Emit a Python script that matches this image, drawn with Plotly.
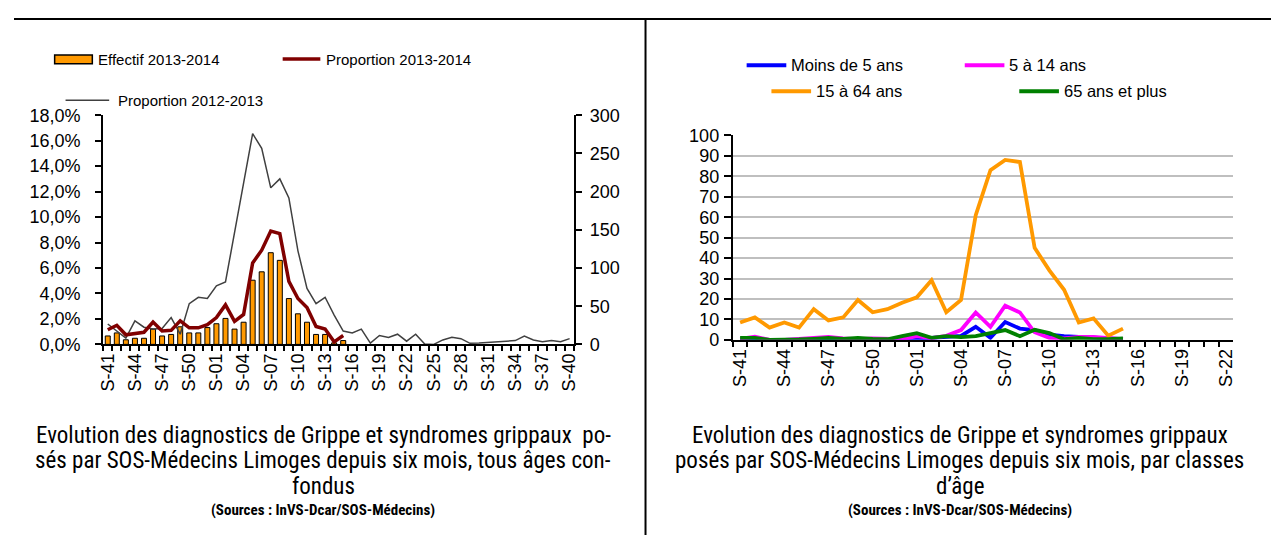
import plotly.graph_objects as go

W, H = 1279, 537
OFF = 8  # la page html ajoute une marge de 8px autour de la figure

# semaines S-41 .. S-52 puis S-01 .. S-40
weeks = [f"S-{w:02d}" for w in list(range(41, 53)) + list(range(1, 41))]
weeks_age = weeks[:34]

# graphique de gauche : tous ages
effectif_1314 = [11, 15, 6, 8, 8, 20, 11, 13, 23, 15, 15, 22, 27, 34, 20, 29,
                 84, 95, 120, 110, 60, 40, 29, 13, 13, 2, 5]
prop_1314 = [1.15, 1.5, 0.75, 0.85, 0.95, 1.75, 1.05, 1.1, 1.85, 1.3, 1.3, 1.55,
             2.1, 3.1, 1.8, 2.35, 6.4, 7.4, 8.9, 8.7, 4.95, 3.6, 2.9, 1.4, 1.2,
             0.2, 0.7]
prop_1213 = [1.6, 1.05, 0.5, 1.85, 1.35, 1.2, 1.25, 2.1, 0.8, 3.2, 3.7, 3.6,
             4.6, 4.9, 8.7, 12.6, 16.55, 15.4, 12.3, 13.0, 11.5, 7.35, 4.4, 3.2,
             3.7, 2.3, 1.05, 0.9, 1.2, 0.1, 0.7, 0.55, 0.8, 0.25, 0.8, 0.02,
             0.0, 0.35, 0.55, 0.45, 0.08, 0.1, 0.15, 0.25, 0.28, 0.3, 0.65, 0.35,
             0.2, 0.3, 0.2, 0.45]

# graphique de droite : par classes d'age
moins5 = [0.3, 0, 0, 0, 0.2, 0.3, 0.3, 0, 0.2, 0.2, 0.2, 0, 0.5, 0.7, 1.2, 1.9,
          6.4, 1.0, 8.7, 5.5, 4.8, 2.5, 1.8, 1.3, 1.0, 0.7, 0.4]
de5a14 = [0.5, 1.5, 0, 0, 0.5, 1.0, 1.5, 0.7, 0.3, 0.7, 0.7, 0.3, 1.8, 0.8, 2.0,
          4.8, 13.4, 6.4, 16.7, 13.4, 3.7, 1.0, 0.7, 1.5, 1.5, 1.0, 0.3]
de15a64 = [8.5, 11, 6, 8.5, 6, 15, 9.5, 11, 19.5, 13.5, 15, 18.2, 20.8, 29.2,
           13.5, 19.5, 61, 83, 88, 87, 45, 34, 24.5, 8.5, 10.5, 2, 5.5]
plus65 = [1.0, 1.0, 0, 0, 0.2, 0.5, 0.9, 0.5, 0.9, 0.5, 0.3, 1.8, 3.3, 1.0, 1.8,
          1.3, 1.8, 3.3, 4.8, 1.8, 4.9, 3.3, 0.3, 1.0, 0.3, 0.3, 0.7]

left_names = ["Effectif 2013-2014", "Proportion 2013-2014", "Proportion 2012-2013"]
age_names = ["Moins de 5 ans", "5 à 14 ans", "15 à 64 ans", "65 ans et plus"]
age_colors = ["#0000FF", "#FF00FF", "#FF9900", "#008000"]

caption_left = ["Evolution des diagnostics de Grippe et syndromes grippaux  po-",
                "sés par SOS-Médecins Limoges depuis six mois, tous âges con-",
                "fondus"]
caption_right = ["Evolution des diagnostics de Grippe et syndromes grippaux",
                 "posés par SOS-Médecins Limoges depuis six mois, par classes",
                 "d’âge"]
sources = "(Sources : InVS-Dcar/SOS-Médecins)"


def px(x):
    return (x - OFF) / W


def py(y):
    return 1 - (y - OFF) / H


TICKFONT = dict(family="Liberation Sans, Arial", size=18, color="black")
CAPFONT = "Liberation Sans Narrow, Roboto Condensed, DejaVu Sans Condensed, Arial Narrow"

fig = go.Figure()

fig.add_trace(go.Bar(x=weeks[:len(effectif_1314)], y=effectif_1314, name=left_names[0],
                     marker=dict(color="#FF9900", line=dict(color="black", width=1)),
                     xaxis="x", yaxis="y"))
fig.add_trace(go.Scatter(x=weeks, y=prop_1213, mode="lines", name=left_names[2],
                         line=dict(color="#404040", width=1.5), xaxis="x", yaxis="y2"))
fig.add_trace(go.Scatter(x=weeks[:len(prop_1314)], y=prop_1314, mode="lines", name=left_names[1],
                         line=dict(color="#800000", width=3.5), xaxis="x", yaxis="y2"))

for name, vals, col in zip(age_names, [moins5, de5a14, de15a64, plus65], age_colors):
    fig.add_trace(go.Scatter(x=weeks_age[:len(vals)], y=vals, mode="lines", name=name,
                             line=dict(color=col, width=3.8), xaxis="x2", yaxis="y3"))

xcommon = dict(type="category", tickmode="array", tickson="boundaries", ticks="outside",
               ticklen=5, tickwidth=1.5, tickcolor="black", tickangle=-90,
               showline=True, linecolor="black", linewidth=2, showgrid=False,
               zeroline=False, tickfont=TICKFONT)

fig.update_layout(
    width=W, height=H,
    margin=dict(l=0, r=0, t=0, b=0),
    paper_bgcolor="white", plot_bgcolor="white",
    showlegend=False, bargap=0.45, separators=", ",
    xaxis=dict(domain=[px(98), px(573)], anchor="y", categoryorder="array", categoryarray=weeks,
               range=[-0.5, len(weeks) - 0.5], tickvals=weeks,
               ticktext=[w if i % 3 == 0 else "" for i, w in enumerate(weeks)], **xcommon),
    yaxis=dict(domain=[py(347), py(109)], anchor="x", side="right", range=[0, 300], dtick=50,
               ticks="outside", ticklen=6, tickwidth=1.5, tickcolor="black",
               showline=True, linecolor="black", linewidth=2, showgrid=False, zeroline=False,
               tickfont=TICKFONT, ticklabelstandoff=4),
    yaxis2=dict(overlaying="y", anchor="x", side="left", range=[0, 18], dtick=2,
                tickformat=".1f", ticksuffix="%",
                ticks="outside", ticklen=6, tickwidth=1.5, tickcolor="black",
                showline=True, linecolor="black", linewidth=2, showgrid=False, zeroline=False,
                tickfont=TICKFONT, ticklabelstandoff=11),
    xaxis2=dict(domain=[px(733), px(1238)], anchor="y3", categoryorder="array",
                categoryarray=weeks_age, range=[-0.5, len(weeks_age) - 0.5], tickvals=weeks_age,
                ticktext=[w if i % 3 == 0 else "" for i, w in enumerate(weeks_age)], **xcommon),
    yaxis3=dict(domain=[py(342.3), py(130)], anchor="x2", range=[0, 100], dtick=10,
                ticks="outside", ticklen=7, tickwidth=1.5, tickcolor="black",
                showline=True, linecolor="black", linewidth=2,
                showgrid=True, gridcolor="#BFBFBF", gridwidth=1.5, zeroline=False,
                tickfont=TICKFONT, ticklabelstandoff=1),
)

shapes = []
# cadre
frame = dict(type="line", xref="paper", yref="paper", line=dict(color="black", width=2))
shapes.append(dict(frame, x0=0, x1=1, y0=py(9), y1=py(9)))
shapes.append(dict(frame, x0=px(645), x1=px(645), y0=0, y1=py(9)))

# legendes
shapes.append(dict(type="rect", xref="paper", yref="paper", x0=px(49), x1=px(87),
                   y0=py(55.5), y1=py(46.5), fillcolor="#FF9900",
                   line=dict(color="black", width=1.5)))
leg_lines = [(279, 317, 50.5, "#800000", 3.5), (60, 104, 93.5, "#404040", 1.5),
             (747, 787, 57, age_colors[0], 4), (967, 1007, 57, age_colors[1], 4),
             (772, 812, 84, age_colors[2], 4), (1022, 1062, 84, age_colors[3], 4)]
for x0, x1, yy, col, wd in leg_lines:
    shapes.append(dict(type="line", xref="paper", yref="paper", x0=px(x0), x1=px(x1),
                       y0=py(yy), y1=py(yy), line=dict(color=col, width=wd)))
fig.update_layout(shapes=shapes)

ann = []
leg_texts = [(91, 51, left_names[0], 15), (321, 51, left_names[1], 15), (111, 94, left_names[2], 15),
             (790, 57, age_names[0], 16.5), (1010, 57, age_names[1], 16.5),
             (815, 84, age_names[2], 16.5), (1065, 84, age_names[3], 16.5)]
for xx, yy, txt, sz in leg_texts:
    ann.append(dict(x=px(xx), y=py(yy), xref="paper", yref="paper", text=txt, showarrow=False,
                    xanchor="left", yanchor="middle",
                    font=dict(family="Liberation Sans, Arial", size=sz, color="black")))

for cx, lines in [(320, caption_left), (962, caption_right)]:
    for yy, txt in zip([442, 468, 495], lines):
        ann.append(dict(x=px(cx), y=py(yy), xref="paper", yref="paper", text=txt, showarrow=False,
                        xanchor="center", yanchor="middle",
                        font=dict(family=CAPFONT, size=23, color="black")))
    ann.append(dict(x=px(cx), y=py(519), xref="paper", yref="paper", text="<b>" + sources + "</b>",
                    showarrow=False, xanchor="center", yanchor="middle",
                    font=dict(family=CAPFONT, size=15, color="black")))
fig.update_layout(annotations=ann)

fig.write_html("out.html")
